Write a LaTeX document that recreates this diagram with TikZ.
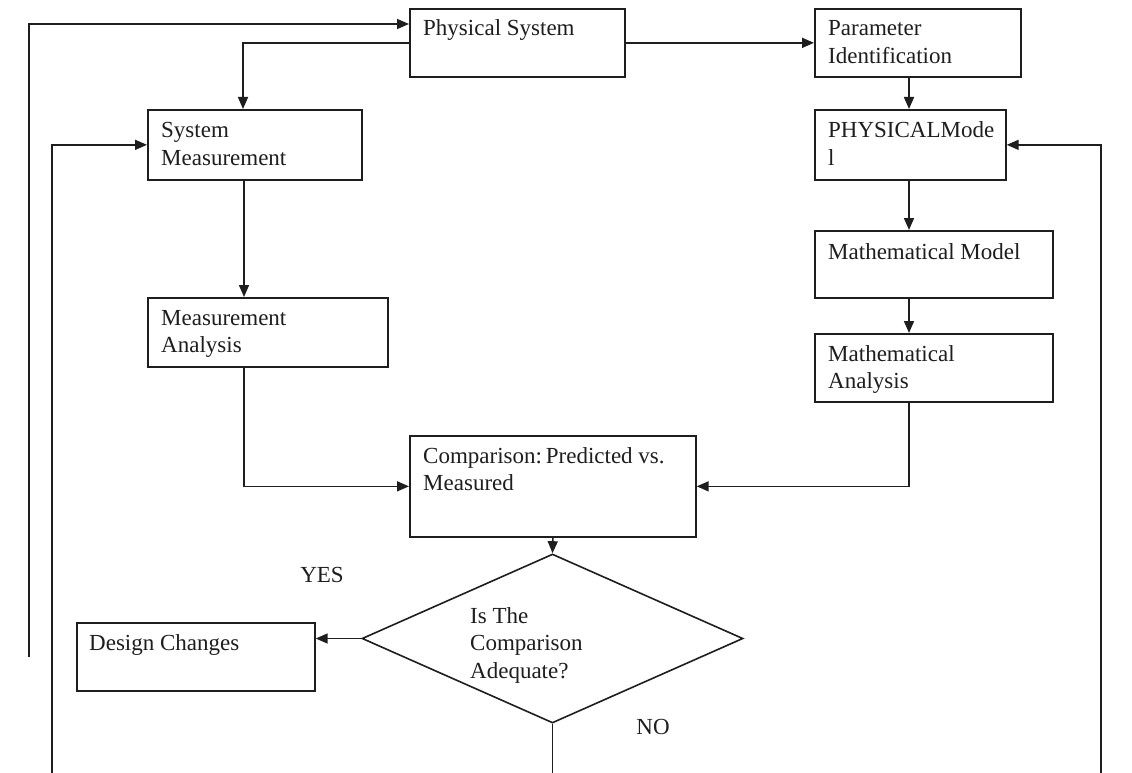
\documentclass[tikz,border=0pt]{standalone}
\usepackage{fontspec}
\setmainfont{Liberation Serif}
\usetikzlibrary{arrows.meta,shapes.geometric,calc}
\newcommand{\boxtxt}[1]{\parbox[t]{300pt}{\raggedright #1}}
\definecolor{ink}{RGB}{30,30,30}
\begin{document}
\begin{tikzpicture}[x=1pt,y=-1pt,
  box/.style={draw=ink, line width=1.7pt, fill=white, rectangle, inner sep=0, anchor=north west},
  txt/.style={anchor=base west, inner sep=0, text=ink, font=\fontsize{23}{27.5}\selectfont},
  conn/.style={draw=ink, line width=1.6pt, -{Triangle[length=12pt,width=10pt]}},
  plain/.style={draw=ink, line width=1.6pt}]
\fill[white] (0,0) rectangle (1132,773);
\useasboundingbox (0,0) rectangle (1132,773);

% boxes
\node[box, minimum width=215pt, minimum height=68pt] (ps) at (409,8) {};
\node[box, minimum width=206pt, minimum height=68pt] (pid) at (814,8) {};
\node[box, minimum width=214pt, minimum height=70pt] (sm) at (147,109) {};
\node[box, minimum width=191pt, minimum height=70pt] (pm) at (814,109) {};
\node[box, minimum width=238pt, minimum height=67pt] (mm) at (814,230) {};
\node[box, minimum width=240pt, minimum height=69pt] (man) at (147,297) {};
\node[box, minimum width=238pt, minimum height=68pt] (ma) at (814,333) {};
\node[box, minimum width=286pt, minimum height=101pt] (cmp) at (409,435) {};
\node[box, minimum width=238pt, minimum height=68pt] (dc) at (76,622) {};
\node[diamond, draw=ink, line width=1.6pt, fill=white, inner sep=0, aspect=2.25,
      minimum width=381pt, minimum height=169pt] (dec) at (552.5,638.5) {};

% texts
\node[txt] (ps-t) at ($(ps.north west)+(14,28)$) {\boxtxt{Physical System}};
\node[txt] (pid-t) at ($(pid.north west)+(14,28)$) {\boxtxt{Parameter\\Identification}};
\node[txt] (sm-t) at ($(sm.north west)+(14,29)$) {\boxtxt{System\\Measurement}};
\node[txt] (pm-t) at ($(pm.north west)+(14,29)$) {\boxtxt{PHYSICALMode\\l}};
\node[txt] (mm-t) at ($(mm.north west)+(14,29)$) {\boxtxt{Mathematical Model}};
\node[txt] (man-t) at ($(man.north west)+(14,28)$) {\boxtxt{Measurement\\Analysis}};
\node[txt] (ma-t) at ($(ma.north west)+(14,28)$) {\boxtxt{Mathematical\\Analysis}};
\node[txt] (cmp-t) at ($(cmp.north west)+(14,28)$) {\boxtxt{Comparison:\,Predicted vs.\\Measured}};
\node[txt] (dc-t) at ($(dc.north west)+(13,28)$) {\boxtxt{Design Changes}};
\node[txt] (dec-t) at (470,623) {\boxtxt{Is The\\Comparison\\Adequate?}};
\node[txt, anchor=center] (yes) at (322,575) {YES};
\node[txt, anchor=center] (no) at (653,727) {NO};

% free ends and columns
\coordinate (lfree) at (29,657);
\coordinate (bfree) at (52,773);
\coordinate (rfree) at (1101,773);
\coordinate (dfree) at (552.5,773);
\coordinate (lc) at (244,0);
\coordinate (rc) at (909,0);

% connectors
\draw[conn] (lfree) |- ($(ps.north west)+(0,16)$);
\draw[conn] (ps.west) -| ($(sm.north west)+(96,0)$);
\draw[conn] (bfree) |- (sm.west);
\draw[conn] (ps.east) -- (pid.west);
\draw[conn] (pid.south -| rc) -- (pm.north -| rc);
\draw[conn] (rfree) |- (pm.east);
\draw[conn] (pm.south -| rc) -- (mm.north -| rc);
\draw[conn] (mm.south -| rc) -- (ma.north -| rc);
\draw[conn] (sm.south -| lc) -- (man.north -| lc);
\draw[conn] (man.south -| lc) |- (cmp.west);
\draw[conn] (ma.south -| rc) |- (cmp.east);
\draw[conn] (cmp.south) -- (dec.north);
\draw[conn] (dec.west) -- (dec.west -| dc.east);
\draw[plain] (dec.south) -- (dfree);
\end{tikzpicture}
\end{document}
